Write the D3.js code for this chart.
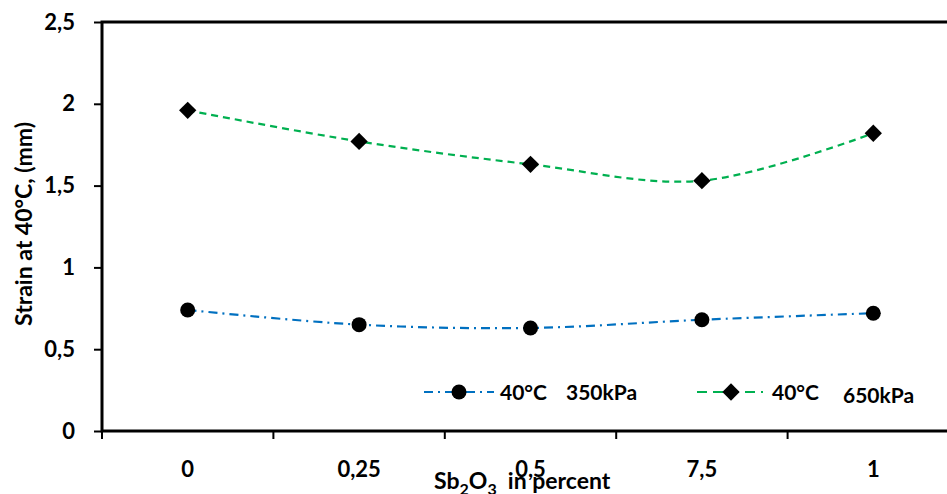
<!DOCTYPE html>
<html lang="en">
<head>
    <meta charset="UTF-8">
    <title>Strain at 40°C</title>
    <style>
        body { margin: 0; background: #fff; }
        text { font-family: Lato, "Open Sans", sans-serif; font-weight: bold; fill: #000; }
    </style>
</head>
<body>
    <script src="https://d3js.org/d3.v7.min.js"></script>
    <script>
        // Chart data
        const categories = ["0", "0,25", "0,5", "7,5", "1"];
        const strain350 = [0.74, 0.65, 0.63, 0.68, 0.72];
        const strain650 = [1.96, 1.77, 1.63, 1.53, 1.82];
        const yTicks = [0, 0.5, 1, 1.5, 2, 2.5];

        const width = 947,
            height = 494,
            plot = {left: 102, top: 22, right: 959, bottom: 431};

        const svg = d3.select("body").append("svg")
            .attr("width", width)
            .attr("height", height);

        const x = d3.scaleBand()
            .domain(categories)
            .range([plot.left, plot.right]);
        const y = d3.scaleLinear()
            .domain([0, 2.5])
            .range([plot.bottom, plot.top]);

        // plot frame (right side runs off the page)
        svg.append("rect")
            .attr("x", plot.left)
            .attr("y", plot.top)
            .attr("width", plot.right - plot.left)
            .attr("height", plot.bottom - plot.top)
            .attr("fill", "none")
            .attr("stroke", "#000")
            .attr("stroke-width", 3);

        // y axis
        const yAxis = svg.append("g")
            .attr("transform", `translate(${plot.left},0)`)
            .call(d3.axisLeft(y).tickValues(yTicks).tickSize(8).tickPadding(19)
                .tickFormat(d => String(d).replace(".", ",")));
        yAxis.select(".domain").remove();
        yAxis.selectAll("line").attr("stroke", "#000").attr("stroke-width", 2);
        yAxis.selectAll("text").style("font-size", "22px").attr("font-family", null);

        // x axis: ticks between categories
        const edges = categories.map(c => x(c)).concat([plot.right]);
        svg.append("g").selectAll("line")
            .data(edges)
            .join("line")
            .attr("x1", d => d).attr("x2", d => d)
            .attr("y1", plot.bottom).attr("y2", plot.bottom + 8)
            .attr("stroke", "#000").attr("stroke-width", 2);

        svg.append("g").selectAll("text")
            .data(categories)
            .join("text")
            .attr("x", d => x(d) + x.bandwidth() / 2)
            .attr("y", 477)
            .attr("text-anchor", "middle")
            .style("font-size", "22px")
            .text(d => d);

        const cx = d => x(d) + x.bandwidth() / 2;

        const line = d3.line()
            .x((d, i) => cx(categories[i]))
            .y(d => y(d))
            .curve(d3.curveCatmullRom.alpha(0.5));

        svg.append("path")
            .datum(strain350)
            .attr("d", line)
            .attr("fill", "none")
            .attr("stroke", "#0070C0")
            .attr("stroke-width", 2.2)
            .attr("stroke-dasharray", "9,5,2,5");

        svg.append("path")
            .datum(strain650)
            .attr("d", line)
            .attr("fill", "none")
            .attr("stroke", "#00B050")
            .attr("stroke-width", 2.2)
            .attr("stroke-dasharray", "7,5");

        svg.append("g").selectAll("circle")
            .data(strain350)
            .join("circle")
            .attr("cx", (d, i) => cx(categories[i]))
            .attr("cy", d => y(d))
            .attr("r", 7.5)
            .attr("fill", "#000");

        const diamond = d3.symbol().type(d3.symbolSquare).size(150);
        svg.append("g").selectAll("path")
            .data(strain650)
            .join("path")
            .attr("d", diamond)
            .attr("transform", (d, i) => `translate(${cx(categories[i])},${y(d)}) rotate(45)`)
            .attr("fill", "#000");

        // legend
        const lg = svg.append("g");
        lg.append("line")
            .attr("x1", 424).attr("x2", 494).attr("y1", 392).attr("y2", 392)
            .attr("stroke", "#0070C0").attr("stroke-width", 2.2)
            .attr("stroke-dasharray", "9,5,2,5");
        lg.append("circle").attr("cx", 459).attr("cy", 392).attr("r", 7.5).attr("fill", "#000");
        lg.append("text").attr("x", 500).attr("y", 400).style("font-size", "21px").text("40°C");
        lg.append("text").attr("x", 566).attr("y", 400).style("font-size", "21px").text("350kPa");

        lg.append("line")
            .attr("x1", 697).attr("x2", 763).attr("y1", 392).attr("y2", 392)
            .attr("stroke", "#00B050").attr("stroke-width", 2.2)
            .attr("stroke-dasharray", "10,6");
        lg.append("path").attr("d", diamond)
            .attr("transform", "translate(731,392) rotate(45)").attr("fill", "#000");
        lg.append("text").attr("x", 772).attr("y", 400).style("font-size", "21px").text("40°C");
        lg.append("text").attr("x", 843).attr("y", 403).style("font-size", "21px").text("650kPa");

        // axis titles (bottom title is clipped by the page edge, as in the source)
        const xt = svg.append("text")
            .attr("x", 434)
            .attr("y", 489)
            .style("font-size", "23px");
        xt.append("tspan").text("Sb");
        xt.append("tspan").attr("dy", 6).style("font-size", "16px").text("2");
        xt.append("tspan").attr("dy", -6).text("O");
        xt.append("tspan").attr("dy", 6).style("font-size", "16px").text("3");
        xt.append("tspan").attr("dy", -6).text("\u00a0\u00a0in percent");

        svg.append("text")
            .attr("transform", "translate(32,224) rotate(-90)")
            .attr("text-anchor", "middle")
            .style("font-size", "23px")
            .text("Strain at 40°C, (mm)");
    </script>
</body>
</html>
